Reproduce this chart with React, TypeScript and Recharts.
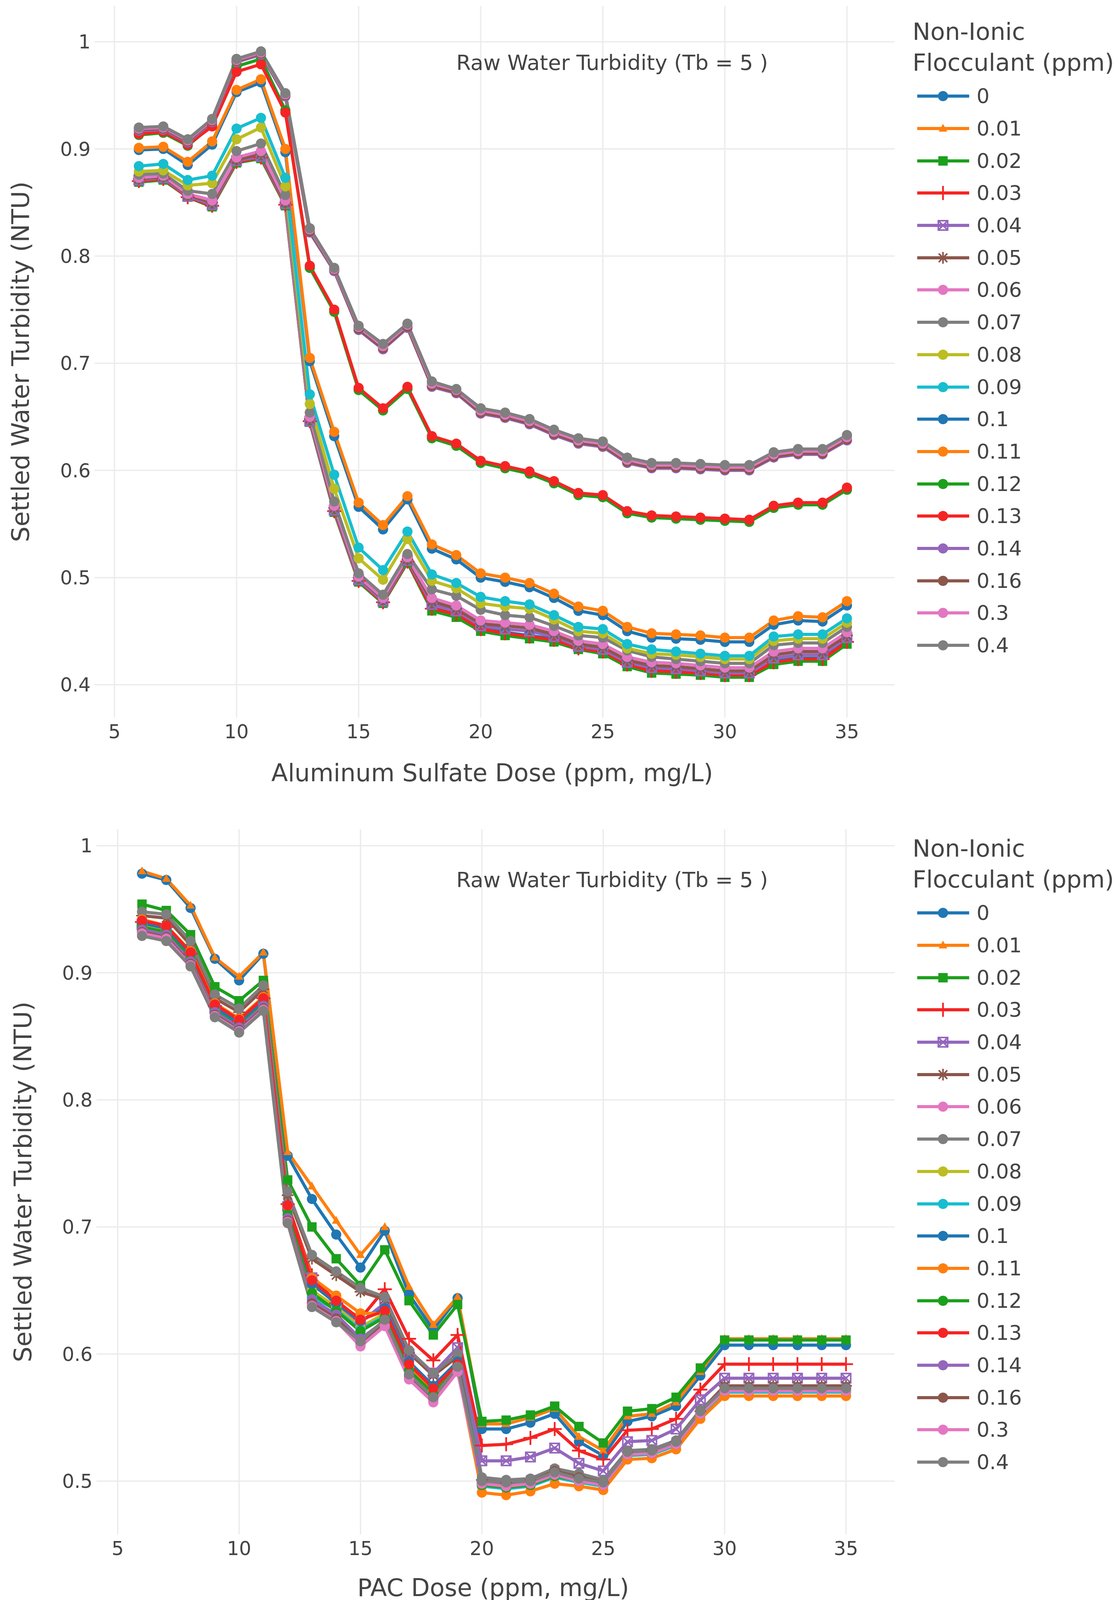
import React from "react";
import { LineChart, Line, XAxis, YAxis, CartesianGrid } from "recharts";

const FONT = "'DejaVu Sans', Verdana, sans-serif";

// x values (dose, ppm)
const DOSES = [6, 7, 8, 9, 10, 11, 12, 13, 14, 15, 16, 17, 18, 19, 20, 21, 22, 23, 24, 25, 26, 27, 28, 29, 30, 31, 32, 33, 34, 35];
const X_TICKS = [5, 10, 15, 20, 25, 30, 35];

// legend entries
const FLOCCULANT = ["0", "0.01", "0.02", "0.03", "0.04", "0.05", "0.06", "0.07", "0.08", "0.09", "0.1", "0.11", "0.12", "0.13", "0.14", "0.16", "0.3", "0.4"];
const COLORS = ["#1f77b4", "#ff7f0e", "#1ca01c", "#f52424", "#9467bd", "#8c564b", "#e377c2", "#7f7f7f", "#bcbd22", "#17becf",
  "#1f77b4", "#ff7f0e", "#1ca01c", "#f52424", "#9467bd", "#8c564b", "#e377c2", "#7f7f7f"];
const SYMBOLS = ["circle", "triangle-up", "square", "cross-thin", "square-x-open", "asterisk", "circle", "circle", "circle", "circle",
  "circle", "circle", "circle", "circle", "circle", "circle", "circle", "circle"];

// Aluminum sulfate chart
const ALUM_0 = [0.871, 0.872, 0.856, 0.848, 0.889, 0.893, 0.849, 0.647, 0.563, 0.498, 0.477, 0.516, 0.472, 0.466, 0.453, 0.449, 0.446, 0.443, 0.435, 0.432, 0.420, 0.414, 0.413, 0.412, 0.410, 0.410, 0.422, 0.425, 0.425, 0.441];
const ALUM_001 = [0.870, 0.871, 0.856, 0.847, 0.888, 0.892, 0.848, 0.646, 0.562, 0.497, 0.476, 0.515, 0.470, 0.464, 0.451, 0.447, 0.444, 0.441, 0.433, 0.430, 0.418, 0.412, 0.411, 0.410, 0.408, 0.408, 0.420, 0.423, 0.423, 0.439];
const ALUM_002 = [0.869, 0.871, 0.855, 0.846, 0.887, 0.891, 0.847, 0.645, 0.561, 0.496, 0.476, 0.514, 0.469, 0.463, 0.450, 0.446, 0.443, 0.440, 0.433, 0.429, 0.417, 0.411, 0.410, 0.409, 0.407, 0.407, 0.419, 0.422, 0.422, 0.438];
const ALUM_003 = [0.870, 0.872, 0.855, 0.847, 0.888, 0.892, 0.848, 0.646, 0.562, 0.497, 0.477, 0.515, 0.471, 0.466, 0.452, 0.448, 0.445, 0.442, 0.434, 0.431, 0.419, 0.413, 0.412, 0.411, 0.409, 0.409, 0.421, 0.424, 0.424, 0.440];
const ALUM_004 = [0.871, 0.873, 0.856, 0.848, 0.889, 0.893, 0.849, 0.646, 0.563, 0.498, 0.478, 0.516, 0.475, 0.469, 0.455, 0.452, 0.450, 0.445, 0.436, 0.433, 0.421, 0.416, 0.415, 0.413, 0.411, 0.411, 0.425, 0.428, 0.428, 0.444];
const ALUM_005 = [0.872, 0.874, 0.857, 0.850, 0.890, 0.895, 0.850, 0.648, 0.565, 0.500, 0.480, 0.517, 0.478, 0.471, 0.457, 0.455, 0.453, 0.447, 0.438, 0.435, 0.423, 0.418, 0.417, 0.415, 0.413, 0.413, 0.428, 0.431, 0.431, 0.446];
const ALUM_006 = [0.873, 0.875, 0.858, 0.852, 0.892, 0.898, 0.852, 0.650, 0.567, 0.501, 0.481, 0.519, 0.481, 0.474, 0.460, 0.458, 0.456, 0.450, 0.441, 0.438, 0.426, 0.421, 0.420, 0.418, 0.416, 0.416, 0.431, 0.434, 0.434, 0.449];
const ALUM_007 = [0.876, 0.877, 0.861, 0.858, 0.898, 0.905, 0.857, 0.654, 0.571, 0.504, 0.484, 0.522, 0.489, 0.483, 0.470, 0.465, 0.463, 0.455, 0.446, 0.444, 0.432, 0.426, 0.424, 0.422, 0.420, 0.420, 0.437, 0.439, 0.439, 0.454];
const ALUM_008 = [0.879, 0.880, 0.866, 0.868, 0.909, 0.920, 0.865, 0.662, 0.583, 0.518, 0.498, 0.536, 0.497, 0.490, 0.476, 0.473, 0.471, 0.461, 0.450, 0.448, 0.434, 0.429, 0.428, 0.426, 0.424, 0.424, 0.441, 0.443, 0.443, 0.458];
const ALUM_009 = [0.884, 0.886, 0.871, 0.875, 0.919, 0.929, 0.873, 0.671, 0.596, 0.528, 0.507, 0.543, 0.503, 0.495, 0.482, 0.478, 0.475, 0.465, 0.454, 0.452, 0.438, 0.433, 0.431, 0.429, 0.427, 0.427, 0.445, 0.447, 0.447, 0.462];
const ALUM_01 = [0.899, 0.900, 0.885, 0.904, 0.953, 0.962, 0.897, 0.702, 0.632, 0.566, 0.545, 0.573, 0.527, 0.517, 0.500, 0.496, 0.491, 0.481, 0.469, 0.465, 0.450, 0.444, 0.443, 0.442, 0.440, 0.440, 0.456, 0.460, 0.459, 0.474];
const ALUM_011 = [0.901, 0.902, 0.888, 0.907, 0.955, 0.965, 0.900, 0.705, 0.636, 0.570, 0.549, 0.576, 0.531, 0.521, 0.504, 0.500, 0.495, 0.485, 0.473, 0.469, 0.454, 0.448, 0.447, 0.446, 0.444, 0.444, 0.460, 0.464, 0.463, 0.478];
const ALUM_012 = [0.913, 0.915, 0.903, 0.922, 0.977, 0.984, 0.936, 0.789, 0.748, 0.675, 0.656, 0.676, 0.630, 0.623, 0.607, 0.602, 0.597, 0.588, 0.577, 0.575, 0.560, 0.556, 0.555, 0.554, 0.553, 0.552, 0.565, 0.568, 0.568, 0.582];
const ALUM_013 = [0.914, 0.916, 0.904, 0.921, 0.972, 0.979, 0.934, 0.791, 0.750, 0.677, 0.658, 0.678, 0.632, 0.625, 0.609, 0.604, 0.599, 0.590, 0.579, 0.577, 0.562, 0.558, 0.557, 0.556, 0.555, 0.554, 0.567, 0.570, 0.570, 0.584];
const ALUM_014 = [0.917, 0.918, 0.906, 0.925, 0.981, 0.988, 0.949, 0.822, 0.786, 0.731, 0.713, 0.733, 0.678, 0.672, 0.653, 0.649, 0.643, 0.633, 0.625, 0.622, 0.607, 0.602, 0.602, 0.601, 0.600, 0.600, 0.612, 0.615, 0.615, 0.628];
const ALUM_016 = [0.918, 0.919, 0.907, 0.926, 0.982, 0.989, 0.950, 0.823, 0.787, 0.732, 0.714, 0.734, 0.679, 0.673, 0.654, 0.650, 0.644, 0.634, 0.626, 0.623, 0.608, 0.603, 0.603, 0.602, 0.601, 0.601, 0.613, 0.616, 0.616, 0.629];
const ALUM_03 = [0.919, 0.920, 0.908, 0.927, 0.983, 0.990, 0.951, 0.825, 0.788, 0.734, 0.716, 0.736, 0.681, 0.675, 0.656, 0.652, 0.646, 0.636, 0.628, 0.625, 0.610, 0.605, 0.605, 0.604, 0.603, 0.603, 0.615, 0.618, 0.618, 0.631];
const ALUM_04 = [0.920, 0.921, 0.909, 0.928, 0.984, 0.991, 0.952, 0.826, 0.789, 0.735, 0.718, 0.737, 0.683, 0.676, 0.658, 0.654, 0.648, 0.638, 0.630, 0.627, 0.612, 0.607, 0.607, 0.606, 0.605, 0.605, 0.617, 0.620, 0.620, 0.633];

// PAC chart
const PAC_0 = [0.978, 0.973, 0.951, 0.911, 0.894, 0.915, 0.756, 0.722, 0.694, 0.668, 0.697, 0.647, 0.619, 0.644, 0.541, 0.541, 0.546, 0.553, 0.531, 0.520, 0.547, 0.551, 0.559, 0.583, 0.607, 0.607, 0.607, 0.607, 0.607, 0.607];
const PAC_001 = [0.980, 0.974, 0.953, 0.912, 0.897, 0.916, 0.759, 0.732, 0.705, 0.678, 0.700, 0.653, 0.623, 0.645, 0.545, 0.545, 0.550, 0.557, 0.535, 0.524, 0.551, 0.553, 0.562, 0.586, 0.612, 0.612, 0.612, 0.612, 0.612, 0.612];
const PAC_002 = [0.954, 0.949, 0.930, 0.889, 0.878, 0.894, 0.737, 0.700, 0.675, 0.654, 0.682, 0.642, 0.615, 0.639, 0.547, 0.548, 0.552, 0.559, 0.543, 0.530, 0.555, 0.557, 0.566, 0.589, 0.611, 0.611, 0.611, 0.611, 0.611, 0.611];
const PAC_003 = [0.940, 0.936, 0.915, 0.874, 0.862, 0.880, 0.718, 0.662, 0.640, 0.628, 0.651, 0.612, 0.595, 0.615, 0.528, 0.529, 0.534, 0.541, 0.524, 0.517, 0.540, 0.541, 0.549, 0.572, 0.592, 0.592, 0.592, 0.592, 0.592, 0.592];
const PAC_004 = [0.938, 0.934, 0.913, 0.872, 0.860, 0.878, 0.716, 0.660, 0.638, 0.625, 0.640, 0.600, 0.585, 0.605, 0.516, 0.516, 0.519, 0.526, 0.514, 0.508, 0.531, 0.532, 0.541, 0.564, 0.581, 0.581, 0.581, 0.581, 0.581, 0.581];
const PAC_005 = [0.945, 0.943, 0.922, 0.880, 0.869, 0.887, 0.725, 0.675, 0.662, 0.649, 0.643, 0.601, 0.583, 0.598, 0.501, 0.499, 0.501, 0.509, 0.504, 0.499, 0.523, 0.524, 0.531, 0.555, 0.575, 0.575, 0.575, 0.575, 0.575, 0.575];
const PAC_006 = [0.933, 0.929, 0.908, 0.868, 0.856, 0.873, 0.706, 0.641, 0.629, 0.607, 0.623, 0.581, 0.563, 0.587, 0.497, 0.495, 0.497, 0.505, 0.500, 0.497, 0.521, 0.522, 0.529, 0.553, 0.571, 0.571, 0.571, 0.571, 0.571, 0.571];
const PAC_007 = [0.948, 0.946, 0.925, 0.883, 0.872, 0.890, 0.728, 0.678, 0.665, 0.652, 0.645, 0.603, 0.585, 0.600, 0.503, 0.501, 0.502, 0.510, 0.506, 0.501, 0.524, 0.525, 0.532, 0.556, 0.573, 0.573, 0.573, 0.573, 0.573, 0.573];
const PAC_008 = [0.937, 0.933, 0.912, 0.871, 0.859, 0.877, 0.712, 0.650, 0.637, 0.621, 0.632, 0.590, 0.572, 0.592, 0.498, 0.496, 0.498, 0.505, 0.501, 0.497, 0.521, 0.522, 0.529, 0.553, 0.571, 0.571, 0.571, 0.571, 0.571, 0.571];
const PAC_009 = [0.935, 0.932, 0.910, 0.870, 0.860, 0.876, 0.709, 0.645, 0.635, 0.619, 0.630, 0.588, 0.570, 0.590, 0.496, 0.494, 0.496, 0.503, 0.499, 0.496, 0.520, 0.521, 0.528, 0.552, 0.570, 0.570, 0.570, 0.570, 0.570, 0.570];
const PAC_01 = [0.939, 0.935, 0.914, 0.873, 0.861, 0.878, 0.714, 0.655, 0.640, 0.626, 0.636, 0.594, 0.575, 0.594, 0.499, 0.497, 0.499, 0.506, 0.502, 0.498, 0.522, 0.523, 0.530, 0.554, 0.572, 0.572, 0.572, 0.572, 0.572, 0.572];
const PAC_011 = [0.942, 0.937, 0.917, 0.876, 0.864, 0.881, 0.716, 0.660, 0.646, 0.632, 0.632, 0.591, 0.571, 0.588, 0.491, 0.489, 0.492, 0.498, 0.496, 0.493, 0.517, 0.518, 0.525, 0.549, 0.567, 0.567, 0.567, 0.567, 0.567, 0.567];
const PAC_012 = [0.936, 0.932, 0.911, 0.870, 0.858, 0.875, 0.710, 0.648, 0.634, 0.618, 0.629, 0.587, 0.569, 0.589, 0.497, 0.495, 0.497, 0.504, 0.500, 0.497, 0.521, 0.522, 0.529, 0.553, 0.571, 0.571, 0.571, 0.571, 0.571, 0.571];
const PAC_013 = [0.941, 0.937, 0.916, 0.875, 0.863, 0.880, 0.717, 0.658, 0.642, 0.627, 0.634, 0.592, 0.573, 0.592, 0.498, 0.496, 0.498, 0.505, 0.501, 0.497, 0.521, 0.522, 0.529, 0.553, 0.572, 0.572, 0.572, 0.572, 0.572, 0.572];
const PAC_014 = [0.934, 0.930, 0.909, 0.869, 0.857, 0.874, 0.707, 0.643, 0.631, 0.612, 0.626, 0.584, 0.566, 0.588, 0.499, 0.497, 0.499, 0.506, 0.502, 0.498, 0.522, 0.523, 0.530, 0.554, 0.572, 0.572, 0.572, 0.572, 0.572, 0.572];
const PAC_016 = [0.932, 0.928, 0.907, 0.867, 0.855, 0.872, 0.705, 0.640, 0.628, 0.609, 0.625, 0.583, 0.565, 0.588, 0.500, 0.498, 0.500, 0.508, 0.503, 0.499, 0.523, 0.524, 0.531, 0.555, 0.574, 0.574, 0.574, 0.574, 0.574, 0.574];
const PAC_03 = [0.931, 0.927, 0.906, 0.866, 0.854, 0.871, 0.704, 0.638, 0.626, 0.606, 0.622, 0.580, 0.562, 0.586, 0.498, 0.496, 0.498, 0.505, 0.500, 0.497, 0.521, 0.522, 0.529, 0.553, 0.571, 0.571, 0.571, 0.571, 0.571, 0.571];
const PAC_04 = [0.929, 0.925, 0.905, 0.865, 0.853, 0.870, 0.703, 0.637, 0.625, 0.610, 0.627, 0.584, 0.566, 0.590, 0.500, 0.499, 0.500, 0.507, 0.502, 0.499, 0.523, 0.524, 0.531, 0.555, 0.573, 0.573, 0.573, 0.573, 0.573, 0.573];

const ALUM_SERIES = [ALUM_0, ALUM_001, ALUM_002, ALUM_003, ALUM_004, ALUM_005, ALUM_006, ALUM_007, ALUM_008, ALUM_009,
  ALUM_01, ALUM_011, ALUM_012, ALUM_013, ALUM_014, ALUM_016, ALUM_03, ALUM_04];
const PAC_SERIES = [PAC_0, PAC_001, PAC_002, PAC_003, PAC_004, PAC_005, PAC_006, PAC_007, PAC_008, PAC_009,
  PAC_01, PAC_011, PAC_012, PAC_013, PAC_014, PAC_016, PAC_03, PAC_04];

const ALUM_Y_TICKS = [0.4, 0.5, 0.6, 0.7, 0.8, 0.9, 1];
const PAC_Y_TICKS = [0.5, 0.6, 0.7, 0.8, 0.9, 1];

function toRows(series: number[][]) {
  return DOSES.map((dose, i) => {
    const row: Record<string, number> = { dose };
    series.forEach((s, k) => { row[`s${k}`] = s[i]; });
    return row;
  });
}

function Marker({ cx, cy, symbol, color }: { cx?: number; cy?: number; symbol: string; color: string }) {
  if (cx == null || cy == null) return null;
  switch (symbol) {
    case "triangle-up":
      return <path d={`M${cx},${cy - 12}L${cx + 11},${cy + 8}L${cx - 11},${cy + 8}Z`} fill={color} />;
    case "square":
      return <rect x={cx - 12} y={cy - 12} width={24} height={24} fill={color} />;
    case "cross-thin":
      return <path d={`M${cx - 18},${cy}H${cx + 18}M${cx},${cy - 18}V${cy + 18}`} stroke={color} strokeWidth={4.5} fill="none" />;
    case "square-x-open":
      return (
        <g stroke={color} strokeWidth={4} fill="none">
          <rect x={cx - 12} y={cy - 12} width={24} height={24} />
          <path d={`M${cx - 12},${cy - 12}L${cx + 12},${cy + 12}M${cx + 12},${cy - 12}L${cx - 12},${cy + 12}`} />
        </g>
      );
    case "asterisk":
      return (
        <path
          d={`M${cx - 15},${cy}H${cx + 15}M${cx},${cy - 15}V${cy + 15}M${cx - 11},${cy - 11}L${cx + 11},${cy + 11}M${cx + 11},${cy - 11}L${cx - 11},${cy + 11}`}
          stroke={color}
          strokeWidth={4}
          fill="none"
        />
      );
    default:
      return <circle cx={cx} cy={cy} r={13} fill={color} />;
  }
}

type ChartProps = {
  series: number[][];
  xTitle: string;
  yTicks: number[];
  yDomain: [number, number];
  xDomain: [number, number];
  plotLeft: number;
  plotRight: number;
  plotTop: number;
  plotBottom: number;
  yTitleX: number;
  xTitleY: number;
};

const W = 2862;
const H = 2064;

function DoseChart(p: ChartProps) {
  const rows = toRows(p.series);
  const tickStyle = { fill: "#444", fontSize: 49, fontFamily: FONT };
  const yMid = (p.plotTop + p.plotBottom) / 2;
  const xMid = (p.plotLeft + p.plotRight) / 2 - 6;
  return (
    <LineChart
      width={W}
      height={H}
      data={rows}
      margin={{ top: p.plotTop, right: W - p.plotRight, bottom: 0, left: 0 }}
    >
      <CartesianGrid stroke="#ececec" strokeWidth={3.5} syncWithTicks />
      <XAxis
        dataKey="dose"
        type="number"
        domain={p.xDomain}
        ticks={X_TICKS}
        allowDataOverflow
        height={H - p.plotBottom}
        axisLine={false}
        tickLine={false}
        tickSize={0}
        tickMargin={18}
        tick={tickStyle}
        label={() => (
          <text x={xMid} y={p.xTitleY} textAnchor="middle" dominantBaseline="central" fill="#444" fontSize={62} fontFamily={FONT}>
            {p.xTitle}
          </text>
        )}
      />
      <YAxis
        type="number"
        domain={p.yDomain}
        ticks={p.yTicks}
        allowDataOverflow
        width={p.plotLeft}
        axisLine={false}
        tickLine={false}
        tickSize={0}
        tickMargin={10}
        tick={tickStyle}
        label={() => (
          <text
            x={p.yTitleX}
            y={yMid}
            transform={`rotate(-90 ${p.yTitleX} ${yMid})`}
            textAnchor="middle"
            dominantBaseline="central"
            fill="#444"
            fontSize={63}
            fontFamily={FONT}
          >
            Settled Water Turbidity (NTU)
          </text>
        )}
      />
      {p.series.map((_, k) => (
        <Line
          key={FLOCCULANT[k]}
          type="linear"
          dataKey={`s${k}`}
          name={FLOCCULANT[k]}
          stroke={COLORS[k]}
          strokeWidth={8}
          dot={(d: any) => <Marker key={`${k}-${d.index}`} cx={d.cx} cy={d.cy} symbol={SYMBOLS[k]} color={COLORS[k]} />}
          activeDot={false}
          isAnimationActive={false}
        />
      ))}
    </LineChart>
  );
}

function FlocLegend({ top }: { top: number }) {
  return (
    <div style={{ position: "absolute", left: 2336, top, fontFamily: FONT, color: "#444" }}>
      <div style={{ fontSize: 61, lineHeight: "79px", whiteSpace: "nowrap" }}>
        Non-Ionic
        <br />
        Flocculant (ppm)
      </div>
      <div style={{ marginTop: 6 }}>
        {FLOCCULANT.map((name, k) => (
          <div key={name} style={{ display: "flex", alignItems: "center", height: 82.7 }}>
            <svg width={141} height={40} style={{ marginLeft: 8 }}>
              <line x1={4} y1={20} x2={137} y2={20} stroke={COLORS[k]} strokeWidth={8} />
              <Marker cx={70} cy={20} symbol={SYMBOLS[k]} color={COLORS[k]} />
            </svg>
            <span style={{ fontSize: 52, marginLeft: 15 }}>{name}</span>
          </div>
        ))}
      </div>
    </div>
  );
}

function Note({ top }: { top: number }) {
  return (
    <div
      style={{
        position: "absolute",
        left: 1567,
        top,
        transform: "translate(-50%, -50%)",
        fontFamily: FONT,
        fontSize: 54,
        color: "#444",
        whiteSpace: "nowrap",
      }}
    >
      Raw Water Turbidity (Tb = 5 )
    </div>
  );
}

export default function App() {
  return (
    <div style={{ position: "relative", width: W, height: 4128, background: "#fff" }}>
      <style>{"body{margin:0}"}</style>
      <div style={{ position: "absolute", left: 0, top: 0 }}>
        <DoseChart
          series={ALUM_SERIES}
          xTitle="Aluminum Sulfate Dose (ppm, mg/L)"
          yTicks={ALUM_Y_TICKS}
          yDomain={[0.3694, 1.0335]}
          xDomain={[4.184, 36.95]}
          plotLeft={242}
          plotRight={2290}
          plotTop={15}
          plotBottom={1837}
          yTitleX={52}
          xTitleY={1978}
        />
      </div>
      <div style={{ position: "absolute", left: 0, top: H }}>
        <DoseChart
          series={PAC_SERIES}
          xTitle="PAC Dose (ppm, mg/L)"
          yTicks={PAC_Y_TICKS}
          yDomain={[0.4581, 1.0129]}
          xDomain={[4.125, 37.0]}
          plotLeft={247}
          plotRight={2290}
          plotTop={59}
          plotBottom={1864}
          yTitleX={58}
          xTitleY={2000}
        />
      </div>
      <Note top={160} />
      <Note top={2252} />
      <FlocLegend top={41} />
      <FlocLegend top={2132} />
    </div>
  );
}
